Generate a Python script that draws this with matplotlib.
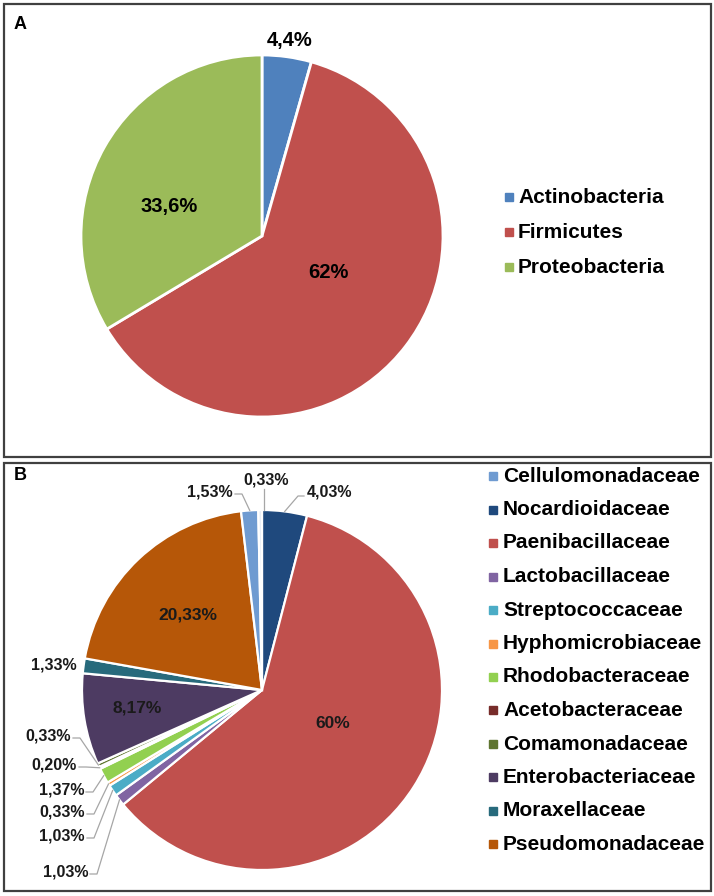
import numpy as np
import matplotlib
matplotlib.use("Agg")
import matplotlib.pyplot as plt
from matplotlib.patches import Rectangle
from matplotlib import font_manager

# ---------------- data ----------------
phyla = ["Actinobacteria", "Firmicutes", "Proteobacteria"]
phyla_pct = [4.4, 62.0, 33.6]
phyla_lbl = ["4,4%", "62%", "33,6%"]
phyla_col = ["#4F81BD", "#C0504D", "#9BBB59"]

# families in clockwise order starting at 12 o'clock
fam = ["Nocardioidaceae", "Paenibacillaceae", "Lactobacillaceae", "Streptococcaceae",
       "Hyphomicrobiaceae", "Rhodobacteraceae", "Acetobacteraceae", "Comamonadaceae",
       "Enterobacteriaceae", "Moraxellaceae", "Pseudomonadaceae", "Cellulomonadaceae", ""]
fam_pct = [4.03, 60.0, 1.03, 1.03, 0.33, 1.37, 0.20, 0.33, 8.17, 1.33, 20.33, 1.53, 0.33]
fam_lbl = ["4,03%", "60%", "1,03%", "1,03%", "0,33%", "1,37%", "0,20%", "0,33%",
           "8,17%", "1,33%", "20,33%", "1,53%", "0,33%"]
fam_col = ["#1F497D", "#C0504D", "#8064A2", "#4BACC6", "#F79646", "#92D050",
           "#772C2A", "#5F7530", "#4D3B62", "#276A7C", "#B65708", "#6F9BD1", "#E8EEF6"]
legend_order = ["Cellulomonadaceae", "Nocardioidaceae", "Paenibacillaceae", "Lactobacillaceae",
                "Streptococcaceae", "Hyphomicrobiaceae", "Rhodobacteraceae", "Acetobacteraceae",
                "Comamonadaceae", "Enterobacteriaceae", "Moraxellaceae", "Pseudomonadaceae"]

# ---------------- layout (pixel coords, y down) ----------------
W, H = 714, 896
avail = {f.name for f in font_manager.fontManager.ttflist}
narrow = "Liberation Sans Narrow" if "Liberation Sans Narrow" in avail else "Liberation Sans"
FONT = "Liberation Sans"

fig = plt.figure(figsize=(W / 100, H / 100), dpi=100)
ax = fig.add_axes([0, 0, 1, 1])

def Y(y):
    return H - y

cA, rA = (262, 236), 181
cB, rB = (262, 690), 180

wA, _ = ax.pie(phyla_pct, colors=phyla_col, startangle=90, counterclock=False,
               center=(cA[0], Y(cA[1])), radius=rA,
               wedgeprops=dict(edgecolor="white", linewidth=2))
wB, _ = ax.pie(fam_pct, colors=fam_col, startangle=90, counterclock=False,
               center=(cB[0], Y(cB[1])), radius=rB,
               wedgeprops=dict(edgecolor="white", linewidth=1.6))
ax.set_xlim(0, W)
ax.set_ylim(0, H)
ax.set_aspect("equal")
ax.axis("off")

# panel frames
for (x0, y0, x1, y1) in [(4, 4, 711, 457), (4, 463, 711, 891)]:
    ax.add_patch(Rectangle((x0, Y(y1)), x1 - x0, y1 - y0, fill=False,
                           edgecolor="#404040", linewidth=1.6))
ax.text(14, Y(24), "A", fontsize=13, fontweight="bold", family=narrow, va="center", ha="left")
ax.text(14, Y(475), "B", fontsize=13, fontweight="bold", family=narrow, va="center", ha="left")

# panel A labels
posA = [(290, 40), (328, 272), (169, 206)]
for (x, y), t in zip(posA, phyla_lbl):
    ax.text(x, Y(y), t, fontsize=14.5, fontweight="bold", family=narrow,
            ha="center", va="center")

# legend A
for i, (name, col) in enumerate(zip(phyla, phyla_col)):
    yy = 197 + 35 * i
    ax.plot([509], [Y(yy)], marker="s", ms=6, color=col, mec=col)
    ax.text(518, Y(yy), name, fontsize=15, fontweight="bold", family=FONT,
            ha="left", va="center")

# legend B
for i, name in enumerate(legend_order):
    col = fam_col[fam.index(name)]
    yy = 476 + 33.5 * i
    ax.plot([493], [Y(yy)], marker="s", ms=6, color=col, mec=col)
    ax.text(503, Y(yy), name, fontsize=15, fontweight="bold", family=FONT,
            ha="left", va="center")

# panel B labels
inside = {1: (333, 723), 8: (137, 708), 10: (188, 615)}
for i, (x, y) in inside.items():
    ax.text(x, Y(y), fam_lbl[i], fontsize=12.5, fontweight="bold", family=narrow,
            ha="center", va="center", color="#1a1a1a")

outside = {0: (307, 492, "left"), 11: (233, 492, "right"), 12: (266, 480, "center"),
           9: (77, 665, "right"), 7: (71, 736, "right"), 6: (77, 765, "right"),
           5: (84, 790, "right"), 4: (85, 812, "right"), 3: (85, 836, "right"),
           2: (88, 872, "right")}
cum = np.cumsum([0] + fam_pct)
for i, (x, y, ha) in outside.items():
    ax.text(x, Y(y), fam_lbl[i], fontsize=11.5, fontweight="bold", family=narrow,
            ha=ha, va="center", color="#1a1a1a")
    if i == 9:
        continue
    mid = 90 - (cum[i] + cum[i + 1]) / 2 * 3.6
    ex = cB[0] + rB * np.cos(np.radians(mid))
    ey = cB[1] - rB * np.sin(np.radians(mid))
    if ha == "center":
        pts = [(x - 2, y + 9), (x - 2, ey)]
    elif ha == "right":
        pts = [(x + 2, y + 2), (x + 9, y + 2), (ex, ey)]
    else:
        pts = [(x - 3, y + 4), (x - 9, y + 4), (ex, ey)]
    ax.plot([p[0] for p in pts], [Y(p[1]) for p in pts], color="#A6A6A6", lw=0.9)

fig.savefig("out.png", dpi=100)
